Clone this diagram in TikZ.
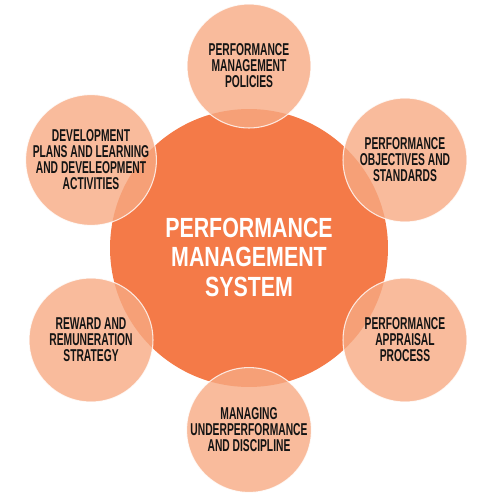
\documentclass[tikz,border=0pt]{standalone}
\usepackage{fontspec}
\newfontfamily\petalfont[FakeStretch=0.6]{Liberation Sans}
\newfontfamily\hubfont[FakeStretch=0.77]{Liberation Sans}
\definecolor{hubfill}{RGB}{244,122,72}
\definecolor{petalfill}{RGB}{247,170,131}
\definecolor{petaltext}{RGB}{20,20,20}
\tikzset{
  hub/.style={circle,fill=hubfill,minimum size=5.56cm,inner sep=0pt},
  hubtext/.style={align=center,text=white,font=\hubfont\bfseries\fontsize{15.8}{16.8}\selectfont},
  petal/.style={circle,fill=petalfill,fill opacity=0.8,draw=white,draw opacity=0.8,line width=0.6pt,
    text opacity=1,minimum size=2.48cm,inner sep=0pt,align=center,text=petaltext,
    font=\petalfont\bfseries\fontsize{9.75}{9.1}\selectfont}
}
\begin{document}
\begin{tikzpicture}[x=0.02cm,y=-0.02cm]
\useasboundingbox (0,0) rectangle (488,500);
\node[hub] (core) at (249,248) {};
\node[hubtext] (coretext) at (249,257) {PERFORMANCE\\MANAGEMENT\\SYSTEM};
% the six parts around it
\node[petal] (policies) at (249,66) {PERFORMANCE\\MANAGEMENT\\POLICIES};
\node[petal] (objectives) at (405,160) {PERFORMANCE\\OBJECTIVES AND\\STANDARDS};
\node[petal] (appraisal) at (405,340) {PERFORMANCE\\APPRAISAL\\PROCESS};
\node[petal] (underperf) at (249,430) {MANAGING\\UNDERPERFORMANCE\\AND DISCIPLINE};
\node[petal] (reward) at (91,340) {REWARD AND\\REMUNERATION\\STRATEGY};
\node[petal] (development) at (91,160) {DEVELOPMENT\\PLANS AND LEARNING\\AND DEVELEOPMENT\\ACTIVITIES};
\end{tikzpicture}
\end{document}
